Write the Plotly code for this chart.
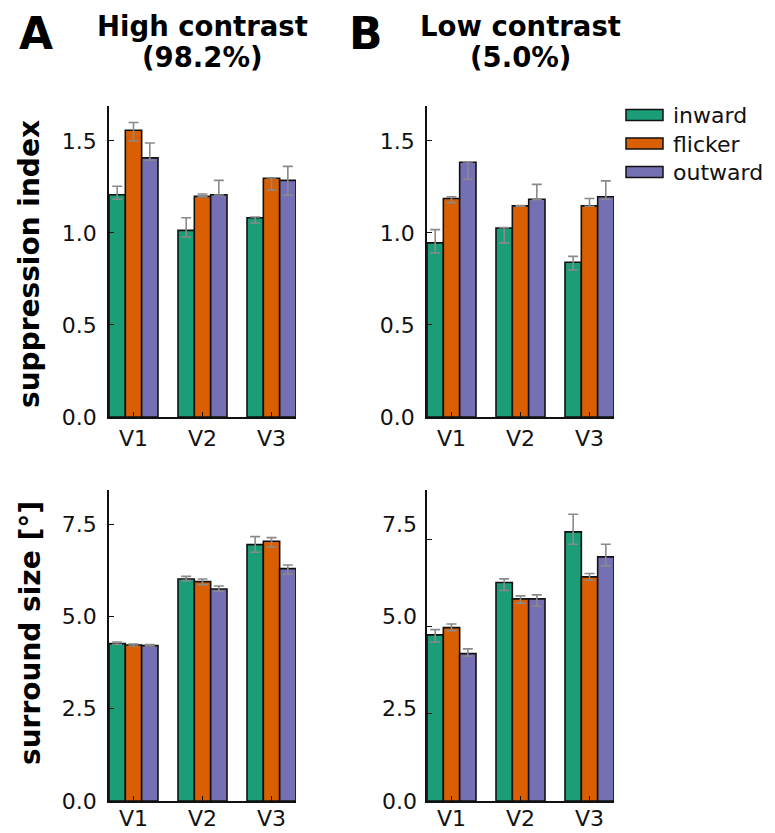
import plotly.graph_objects as go

# ---------------- data ----------------
categories = ["V1", "V2", "V3"]
series = ["inward", "flicker", "outward"]
colors = ["#1b9e77", "#d95f02", "#7570b3"]

# suppression index, high contrast (98.2%)
supp_high = {
    "inward":  [1.208, 1.014, 1.083],
    "flicker": [1.558, 1.199, 1.297],
    "outward": [1.408, 1.208, 1.286],
}
supp_high_plus = {
    "inward":  [0.046, 0.069, 0.004],
    "flicker": [0.042, 0.013, 0.002],
    "outward": [0.081, 0.078, 0.076],
}
supp_high_minus = {
    "inward":  [0.025, 0.036, 0.029],
    "flicker": [0.058, 0.003, 0.065],
    "outward": [0.013, 0.002, 0.081],
}

# suppression index, low contrast (5.0%)
supp_low = {
    "inward":  [0.946, 1.027, 0.841],
    "flicker": [1.187, 1.147, 1.147],
    "outward": [1.384, 1.183, 1.197],
}
supp_low_plus = {
    "inward":  [0.072, 0.002, 0.032],
    "flicker": [0.009, 0.002, 0.040],
    "outward": [0.002, 0.081, 0.086],
}
supp_low_minus = {
    "inward":  [0.055, 0.081, 0.042],
    "flicker": [0.022, 0.002, 0.002],
    "outward": [0.092, 0.002, 0.014],
}

# surround size [deg], high contrast
size_high = {
    "inward":  [4.265, 6.018, 6.949],
    "flicker": [4.229, 5.946, 7.039],
    "outward": [4.211, 5.747, 6.298],
}
size_high_plus = {
    "inward":  [0.045, 0.072, 0.217],
    "flicker": [0.027, 0.072, 0.099],
    "outward": [0.027, 0.081, 0.100],
}
size_high_minus = {
    "inward":  [0.018, 0.045, 0.208],
    "flicker": [0.029, 0.082, 0.154],
    "outward": [0.011, 0.063, 0.153],
}

# surround size [deg], low contrast
size_low = {
    "inward":  [4.758, 6.258, 7.710],
    "flicker": [4.968, 5.790, 6.420],
    "outward": [4.223, 5.790, 6.993],
}
size_low_plus = {
    "inward":  [0.153, 0.105, 0.506],
    "flicker": [0.105, 0.086, 0.096],
    "outward": [0.134, 0.114, 0.363],
}
size_low_minus = {
    "inward":  [0.201, 0.229, 0.354],
    "flicker": [0.086, 0.125, 0.095],
    "outward": [0.077, 0.210, 0.258],
}

supp_ticks = [0, 0.5, 1.0, 1.5]
size_ticks = [0, 2.5, 5.0, 7.5]

# ---------------- figure ----------------
W, H = 775, 833
FONT = "DejaVu Sans"


def px_x(p):
    return p / W


def px_y(p):
    return 1 - p / H


xdom_l = [px_x(109), px_x(296)]
xdom_r = [px_x(427), px_x(614)]
ydom_t = [px_y(417), px_y(106)]
ydom_b = [px_y(801), px_y(490)]

fig = go.Figure()

panels = [
    ("x", "y", supp_high, supp_high_plus, supp_high_minus),
    ("x2", "y2", supp_low, supp_low_plus, supp_low_minus),
    ("x3", "y3", size_high, size_high_plus, size_high_minus),
    ("x4", "y4", size_low, size_low_plus, size_low_minus),
]

for xa, ya, vals, plus, minus in panels:
    for s, c in zip(series, colors):
        fig.add_trace(go.Bar(
            x=categories, y=vals[s], name=s, xaxis=xa, yaxis=ya,
            marker=dict(color=c, line=dict(color="#111111", width=1.6)),
            error_y=dict(type="data", symmetric=False, array=plus[s],
                         arrayminus=minus[s], color="#8a8a8a",
                         thickness=1.6, width=5),
            showlegend=False,
        ))

axis_common = dict(
    showline=True, linecolor="#111111", linewidth=1.6, mirror=False,
    ticks="inside", ticklen=5, tickwidth=1, tickcolor="#111111",
    showgrid=False, zeroline=False, automargin=False,
    tickfont=dict(family=FONT, size=22, color="#111111"),
)

xr = [-0.355, 2.355]
for name, dom, anchor, sto in [("xaxis", xdom_l, "y", 1), ("xaxis2", xdom_r, "y2", 1),
                               ("xaxis3", xdom_l, "y3", -3), ("xaxis4", xdom_r, "y4", -3)]:
    fig.update_layout({name: dict(axis_common, domain=dom, anchor=anchor,
                                  range=xr, type="category",
                                  ticklabelstandoff=sto)})

fig.update_layout(
    yaxis=dict(axis_common, domain=ydom_t, anchor="x", range=[0, 1.69],
               tickvals=supp_ticks, tickformat=".1f", ticklabelstandoff=6),
    yaxis2=dict(axis_common, domain=ydom_t, anchor="x2", range=[0, 1.69],
                tickvals=supp_ticks, tickformat=".1f", ticklabelstandoff=6),
    yaxis3=dict(axis_common, domain=ydom_b, anchor="x3", range=[0, 8.43],
                tickvals=size_ticks, tickformat=".1f", ticklabelstandoff=6),
    yaxis4=dict(axis_common, domain=ydom_b, anchor="x4", range=[0, 8.91],
                tickvals=size_ticks, showticklabels=False),
)

annotations = []
# tick labels of lower-right panel (drawn at the lower-left panel's heights, as in the original)
for v in size_ticks:
    annotations.append(dict(
        x=px_x(427 - 8), y=v, xref="paper", yref="y3", text=f"{v:.1f}",
        showarrow=False, xanchor="right", yanchor="middle",
        font=dict(family=FONT, size=22, color="#111111")))

bold = dict(family=FONT, color="#000000", weight="bold")
# panel letters
annotations.append(dict(x=px_x(36), y=px_y(33), xref="paper", yref="paper",
                        text="A", showarrow=False, xanchor="center", yanchor="middle",
                        font=dict(bold, size=44)))
annotations.append(dict(x=px_x(366), y=px_y(33), xref="paper", yref="paper",
                        text="B", showarrow=False, xanchor="center", yanchor="middle",
                        font=dict(bold, size=44)))
# panel titles
for cx, l1, l2 in [(202.5, "High contrast", "(98.2%)"), (520.5, "Low contrast", "(5.0%)")]:
    annotations.append(dict(x=px_x(cx), y=px_y(26), xref="paper", yref="paper",
                            text=l1, showarrow=False, xanchor="center", yanchor="middle",
                            font=dict(bold, size=27.5)))
    annotations.append(dict(x=px_x(cx), y=px_y(57), xref="paper", yref="paper",
                            text=l2, showarrow=False, xanchor="center", yanchor="middle",
                            font=dict(bold, size=27.5)))
# y-axis titles
annotations.append(dict(x=px_x(30), y=px_y(264), xref="paper", yref="paper",
                        text="suppression index", textangle=-90, showarrow=False,
                        xanchor="center", yanchor="middle", font=dict(bold, size=28)))
annotations.append(dict(x=px_x(30), y=px_y(633), xref="paper", yref="paper",
                        text="surround size [°]", textangle=-90, showarrow=False,
                        xanchor="center", yanchor="middle", font=dict(bold, size=28)))

# legend (drawn manually to match the wide swatches)
shapes = []
leg_y = [115, 143.5, 172]
for s, c, yc in zip(series, colors, leg_y):
    shapes.append(dict(type="rect", xref="paper", yref="paper",
                       x0=px_x(626), x1=px_x(663), y0=px_y(yc + 5.5), y1=px_y(yc - 5.5),
                       fillcolor=c, line=dict(color="#111111", width=1.5)))
    annotations.append(dict(x=px_x(671), y=px_y(yc + 1), xref="paper", yref="paper",
                            text=s, showarrow=False, xanchor="left", yanchor="middle",
                            font=dict(family=FONT, size=22, color="#111111")))

fig.update_layout(
    width=W, height=H, autosize=False,
    margin=dict(l=0, r=0, t=0, b=0, pad=0, autoexpand=False),
    paper_bgcolor="white", plot_bgcolor="white",
    barmode="group", bargap=0.29, bargroupgap=0,
    annotations=annotations, shapes=shapes,
    font=dict(family=FONT, size=22, color="#111111"),
)

fig.write_html("out.html", config={"displayModeBar": False},
               post_script="document.body.style.margin='0';")
